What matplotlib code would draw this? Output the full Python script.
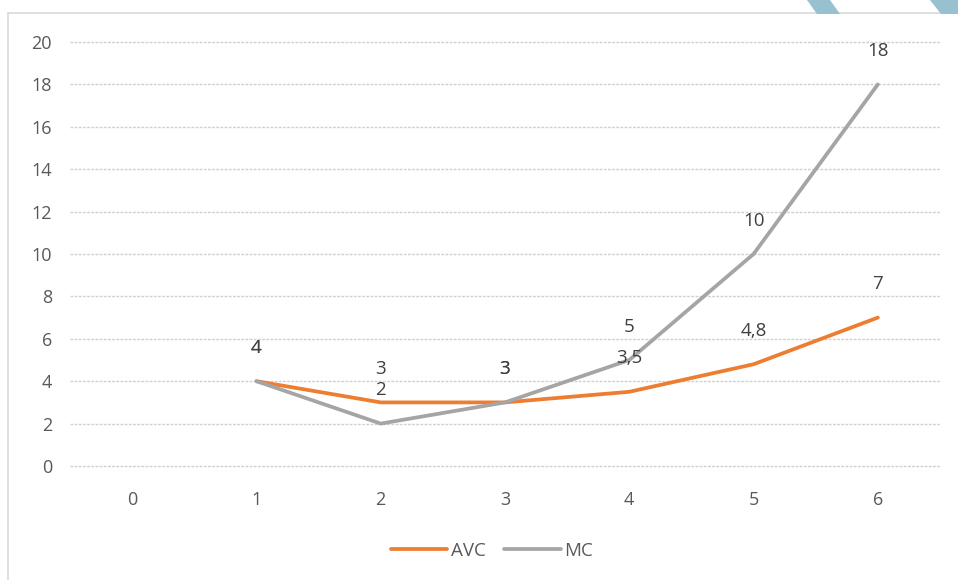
import matplotlib
matplotlib.use("Agg")
import matplotlib.pyplot as plt
from matplotlib.patches import Polygon, Rectangle
import numpy as np

categories = ["0", "1", "2", "3", "4", "5", "6"]
avc = [None, 4, 3, 3, 3.5, 4.8, 7]
mc = [None, 4, 2, 3, 5, 10, 18]
yticks = [0, 2, 4, 6, 8, 10, 12, 14, 16, 18, 20]

ORANGE = "#ED7D31"
GRAY = "#A5A5A5"
TXT = "#595959"
FONT = "Open Sans"

plt.rcParams["font.family"] = [FONT, "DejaVu Sans"]

W, H = 958, 580
fig = plt.figure(figsize=(W / 100, H / 100), dpi=100)
fig.patch.set_facecolor("white")

# chart frame (clipped at right/bottom)
fig.add_artist(Rectangle((8 / W, -0.05), 1.2, (H - 13) / H + 0.05, transform=fig.transFigure,
                         fill=False, edgecolor="#D9D9D9", lw=1.2))
# decorative stripes top-right
for pts in ([(807, 0), (830, 0), (840, 14), (817, 14)],
            [(930, 0), (960, 0), (960, 14), (941, 14)]):
    fig.add_artist(Polygon([(x / W, 1 - y / H) for x, y in pts], closed=True,
                           transform=fig.transFigure, facecolor="#97C1CF", edgecolor="none"))

left, right = 70 / W, 940 / W
bottom, top = (H - 466) / H, (H - 42) / H
ax = fig.add_axes([left, bottom, right - left, top - bottom])
ax.set_facecolor("none")

x = np.arange(len(categories))
def series(vals):
    xs = [i for i, v in zip(x, vals) if v is not None]
    ys = [v for v in vals if v is not None]
    return xs, ys

xa, ya = series(avc)
xm, ym = series(mc)
ax.plot(xa, ya, color=ORANGE, lw=2.7, solid_capstyle="round", solid_joinstyle="round", label="AVC", zorder=3)
ax.plot(xm, ym, color=GRAY, lw=2.7, solid_capstyle="round", solid_joinstyle="round", label="MC", zorder=4)

def fmt(v):
    s = f"{v:g}"
    return s.replace(".", ",")

for xs, ys in ((xa, ya), (xm, ym)):
    for xi, yi in zip(xs, ys):
        ax.annotate(fmt(yi), (xi, yi), xytext=(0, 24), textcoords="offset points",
                    ha="center", va="center", fontsize=13.5, color="#404040", zorder=5)

ax.set_xlim(-0.5, 6.5)
ax.set_ylim(0, 20)
ax.set_yticks(yticks)
ax.set_xticks(x)
ax.set_xticklabels(categories)
ax.tick_params(axis="both", length=0, labelsize=13, labelcolor=TXT)
ax.tick_params(axis="y", pad=13)
ax.tick_params(axis="x", pad=18)
for s in ax.spines.values():
    s.set_visible(False)
ax.grid(axis="y", color="#D0D0D0", lw=1.0, ls=(0, (2, 1)))
for gl in ax.yaxis.get_gridlines():
    gl.set_clip_on(False)
ax.set_axisbelow(True)

leg = fig.legend(loc="center", bbox_to_anchor=(492 / W, 1 - 551 / H), ncol=2, frameon=False,
                 fontsize=13.5, handlelength=3.0, handletextpad=0.2, columnspacing=1.0)
for t in leg.get_texts():
    t.set_color(TXT)

fig.savefig("out.png", dpi=100, facecolor="white")
